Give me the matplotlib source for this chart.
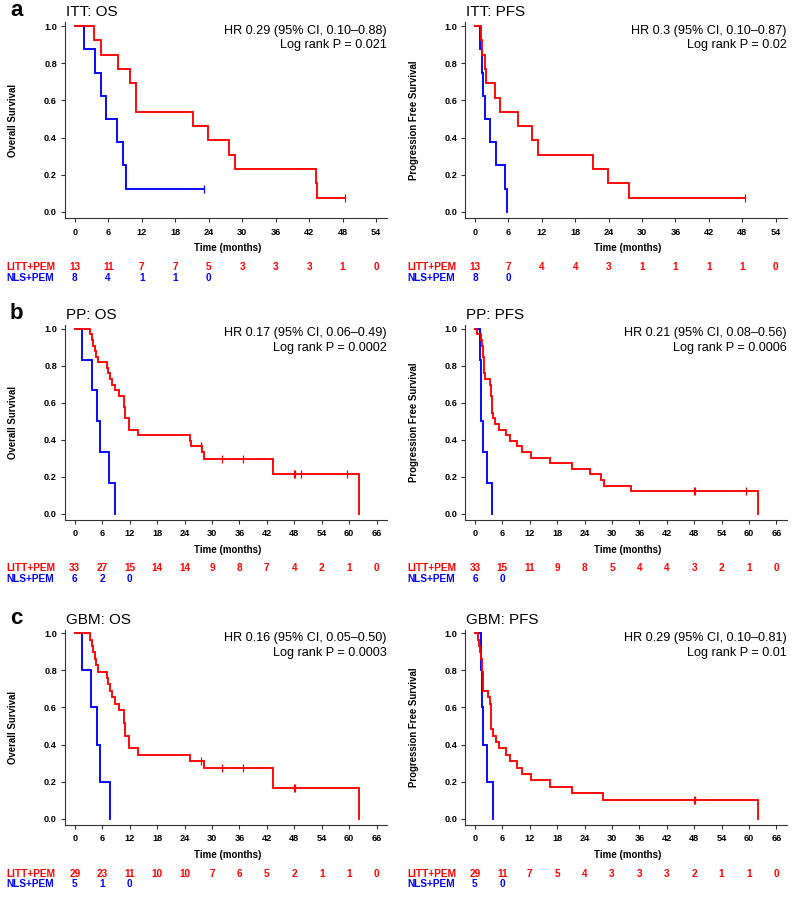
import numpy as np
import matplotlib
matplotlib.use("Agg")
import matplotlib.pyplot as plt
import matplotlib.transforms as mtransforms

plt.rcParams['font.family'] = ['Liberation Sans', 'DejaVu Sans']

# ---------------- data ----------------
# ITT: OS
itt_os_litt_t = [0, 3.4, 4.66, 7.83, 9.92, 11.0, 11.05, 21.27, 23.9, 27.66, 28.8, 43.2, 43.4]
itt_os_litt_s = [1.0, 0.923, 0.846, 0.769, 0.692, 0.615, 0.538, 0.462, 0.385, 0.308, 0.231, 0.154, 0.077]
itt_os_litt_cens = [48.4]
itt_os_nls_t = [0, 1.67, 3.58, 4.66, 5.6, 7.65, 8.72, 9.26]
itt_os_nls_s = [1.0, 0.875, 0.75, 0.625, 0.5, 0.375, 0.25, 0.125]
itt_os_nls_cens = [23.2]

# ITT: PFS
itt_pfs_litt_t = [0, 1.08, 1.2, 1.85, 2.05, 3.53, 4.49, 7.72, 10.3, 11.38, 21.26, 23.95, 27.66]
itt_pfs_litt_s = [1.0, 0.923, 0.846, 0.769, 0.692, 0.615, 0.538, 0.462, 0.385, 0.308, 0.231, 0.154, 0.077]
itt_pfs_litt_cens = [48.56]
itt_pfs_nls_t = [0, 0.84, 1.26, 1.44, 1.8, 2.63, 3.83, 5.39, 5.75]
itt_pfs_nls_s = [1.0, 0.875, 0.75, 0.625, 0.5, 0.375, 0.25, 0.125, 0.0]
itt_pfs_nls_cens = []

# PP: OS
pp_os_litt_t = [0, 3.35, 3.78, 4.07, 4.37, 4.65, 5.16, 6.95, 7.28, 7.72, 8.15, 8.7, 9.76,
                 10.85, 10.88, 10.91, 10.94, 11.8, 11.85, 13.8, 25.2, 25.35, 27.85, 28.35,
                 43.3, 43.4, 62.1]
pp_os_litt_s = [1.0, 0.970, 0.939, 0.909, 0.879, 0.848, 0.818, 0.788, 0.758, 0.727, 0.697, 0.667, 0.636,
                 0.606, 0.576, 0.545, 0.515, 0.485, 0.455, 0.424, 0.394, 0.364, 0.331, 0.298,
                 0.255, 0.213, 0.0]
pp_os_litt_cens = [27.5, 32.3, 36.8, 47.9, 48.2, 49.5, 59.4]
pp_os_nls_t = [0, 1.53, 3.7, 4.8, 5.5, 7.6, 8.8]
pp_os_nls_s = [1.0, 0.833, 0.667, 0.5, 0.333, 0.167, 0.0]
pp_os_nls_cens = []

# PP: PFS
pp_pfs_litt_t = [0, 0.5, 1.3, 1.45, 1.8, 1.85, 1.9, 2.0, 2.05, 2.1, 3.2, 3.4, 3.6, 3.63, 3.66, 3.7,
                  3.9, 4.3, 5.2, 6.85, 7.6, 9.3, 10.4, 12.3, 16.5, 21.3, 25.1, 27.6, 28.2, 34.2, 61.9]
pp_pfs_litt_s = [1.0, 0.970, 0.939, 0.909, 0.879, 0.848, 0.818, 0.788, 0.758, 0.727, 0.697, 0.667,
                  0.636, 0.606, 0.576, 0.545, 0.515, 0.485, 0.455, 0.424, 0.394, 0.364, 0.333, 0.303,
                  0.273, 0.242, 0.212, 0.182, 0.152, 0.121, 0.0]
pp_pfs_litt_cens = [47.9, 48.2, 59.4]
pp_pfs_nls_t = [0, 1.1, 1.25, 1.3, 1.83, 2.56, 3.8]
pp_pfs_nls_s = [1.0, 0.833, 0.667, 0.5, 0.333, 0.167, 0.0]
pp_pfs_nls_cens = []

# GBM: OS
gbm_os_litt_t = [0, 3.45, 3.8, 4.1, 4.4, 4.7, 5.1, 7.0, 7.3, 7.7, 8.15, 8.7, 9.76,
                  10.85, 10.88, 10.91, 10.94, 11.8, 11.85, 13.8, 25.2, 28.3, 43.3, 43.4, 62.1]
gbm_os_litt_s = [1.0, 0.966, 0.931, 0.897, 0.862, 0.828, 0.793, 0.759, 0.724, 0.690, 0.655, 0.621, 0.586,
                  0.552, 0.517, 0.483, 0.448, 0.414, 0.379, 0.345, 0.310, 0.272, 0.217, 0.163, 0.0]
gbm_os_litt_cens = [27.5, 32.3, 36.8, 47.9, 48.2]
gbm_os_nls_t = [0, 1.53, 3.6, 4.8, 5.5, 7.7]
gbm_os_nls_s = [1.0, 0.8, 0.6, 0.4, 0.2, 0.0]
gbm_os_nls_cens = []

# GBM: PFS
gbm_pfs_litt_t = [0, 0.59, 0.95, 1.03, 1.4, 1.43, 1.46, 1.75, 1.8, 1.84, 2.9, 3.2, 3.45, 3.5, 3.55, 3.6,
                   3.9, 4.5, 5.25, 6.85, 7.57, 9.18, 10.27, 12.3, 16.46, 21.27, 28.1, 61.9]
gbm_pfs_litt_s = [1.0, 0.966, 0.931, 0.897, 0.862, 0.828, 0.793, 0.759, 0.724, 0.690, 0.655, 0.621,
                   0.586, 0.552, 0.517, 0.483, 0.448, 0.414, 0.379, 0.345, 0.310, 0.276, 0.241, 0.207,
                   0.172, 0.138, 0.103, 0.0]
gbm_pfs_litt_cens = [47.9, 48.2]
gbm_pfs_nls_t = [0, 1.3, 1.45, 1.75, 2.62, 3.87]
gbm_pfs_nls_s = [1.0, 0.8, 0.6, 0.4, 0.2, 0.0]
gbm_pfs_nls_cens = []

# numbers at risk
itt_os_risk_litt = [13, 11, 7, 7, 5, 3, 3, 3, 1, 0]
itt_os_risk_nls = [8, 4, 1, 1, 0]
itt_pfs_risk_litt = [13, 7, 4, 4, 3, 1, 1, 1, 1, 0]
itt_pfs_risk_nls = [8, 0]
pp_os_risk_litt = [33, 27, 15, 14, 14, 9, 8, 7, 4, 2, 1, 0]
pp_os_risk_nls = [6, 2, 0]
pp_pfs_risk_litt = [33, 15, 11, 9, 8, 5, 4, 4, 3, 2, 1, 0]
pp_pfs_risk_nls = [6, 0]
gbm_os_risk_litt = [29, 23, 11, 10, 10, 7, 6, 5, 2, 1, 1, 0]
gbm_os_risk_nls = [5, 1, 0]
gbm_pfs_risk_litt = [29, 11, 7, 5, 4, 3, 3, 3, 2, 1, 1, 0]
gbm_pfs_risk_nls = [5, 0]

itt_ticks = [0, 6, 12, 18, 24, 30, 36, 42, 48, 54]
pp_ticks = [0, 6, 12, 18, 24, 30, 36, 42, 48, 54, 60, 66]
y_ticks = [0.0, 0.2, 0.4, 0.6, 0.8, 1.0]

titles = ["ITT: OS", "ITT: PFS", "PP: OS", "PP: PFS", "GBM: OS", "GBM: PFS"]
hr_texts = ["HR 0.29 (95% CI, 0.10\u20130.88)", "HR 0.3 (95% CI, 0.10\u20130.87)",
            "HR 0.17 (95% CI, 0.06\u20130.49)", "HR 0.21 (95% CI, 0.08\u20130.56)",
            "HR 0.16 (95% CI, 0.05\u20130.50)", "HR 0.29 (95% CI, 0.10\u20130.81)"]
p_texts = ["Log rank P = 0.021", "Log rank P = 0.02",
           "Log rank P = 0.0002", "Log rank P = 0.0006",
           "Log rank P = 0.0003", "Log rank P = 0.01"]
ylabels = ["Overall Survival", "Progression Free Survival"]
group_names = ["LITT+PEM", "NLS+PEM"]
panel_letters = ["a", "b", "c"]

RED = "#FF0000"
BLUE = "#0000FF"
AXC = "#333333"

# ---------------- layout ----------------
W, H = 798, 897
fig = plt.figure(figsize=(W / 100, H / 100), dpi=100)

col_left = [65 / W, 465.3 / W]
col_width = [322 / W, 321.4 / W]
row_tb = [(22.3, 218.5), (325.0, 520.2), (629.6, 825.2)]

panels = [
    (itt_os_litt_t, itt_os_litt_s, itt_os_litt_cens, itt_os_nls_t, itt_os_nls_s, itt_os_nls_cens,
     itt_os_risk_litt, itt_os_risk_nls, itt_ticks),
    (itt_pfs_litt_t, itt_pfs_litt_s, itt_pfs_litt_cens, itt_pfs_nls_t, itt_pfs_nls_s, itt_pfs_nls_cens,
     itt_pfs_risk_litt, itt_pfs_risk_nls, itt_ticks),
    (pp_os_litt_t, pp_os_litt_s, pp_os_litt_cens, pp_os_nls_t, pp_os_nls_s, pp_os_nls_cens,
     pp_os_risk_litt, pp_os_risk_nls, pp_ticks),
    (pp_pfs_litt_t, pp_pfs_litt_s, pp_pfs_litt_cens, pp_pfs_nls_t, pp_pfs_nls_s, pp_pfs_nls_cens,
     pp_pfs_risk_litt, pp_pfs_risk_nls, pp_ticks),
    (gbm_os_litt_t, gbm_os_litt_s, gbm_os_litt_cens, gbm_os_nls_t, gbm_os_nls_s, gbm_os_nls_cens,
     gbm_os_risk_litt, gbm_os_risk_nls, pp_ticks),
    (gbm_pfs_litt_t, gbm_pfs_litt_s, gbm_pfs_litt_cens, gbm_pfs_nls_t, gbm_pfs_nls_s, gbm_pfs_nls_cens,
     gbm_pfs_risk_litt, gbm_pfs_risk_nls, pp_ticks),
]


def draw_km(ax, t, s, cens, color):
    t = np.asarray(t, float)
    s = np.asarray(s, float)
    t_end = max(t[-1], max(cens) if len(cens) else t[-1])
    ax.step(np.append(t, t_end), np.append(s, s[-1]), where="post", color=color,
            lw=1.35, solid_joinstyle="miter", zorder=3)
    if len(cens):
        c = np.asarray(cens, float)
        idx = np.searchsorted(t, c, side="right") - 1
        ax.plot(c, s[idx], linestyle="none", marker="|", markersize=5.5,
                markeredgewidth=0.9, color=color, zorder=4)


for i, (lt, ls, lc, nt, ns, nc, rl, rn, ticks) in enumerate(panels):
    row, col = divmod(i, 2)
    top, bot = row_tb[row]
    ax = fig.add_axes([col_left[col], 1 - bot / H, col_width[col], (bot - top) / H])

    draw_km(ax, nt, ns, nc, BLUE)
    draw_km(ax, lt, ls, lc, RED)

    if ticks[-1] == 54:
        ax.set_xlim(-1.74, 55.97)
    else:
        ax.set_xlim(-2.12, 68.25)
    ax.set_ylim(-0.035, 1.02)
    ax.set_xticks(ticks)
    ax.set_yticks(y_ticks)
    ax.set_yticklabels([f"{v:.1f}" for v in y_ticks])

    for sp in ["top", "right"]:
        ax.spines[sp].set_visible(False)
    for sp in ["left", "bottom"]:
        ax.spines[sp].set_color(AXC)
        ax.spines[sp].set_linewidth(0.8)
    ax.tick_params(axis="both", direction="out", length=3.2, width=0.8, color=AXC,
                   labelsize=6.6)
    ax.tick_params(axis="x", pad=3.4)
    ax.tick_params(axis="y", pad=2.6)
    for lab in ax.get_xticklabels() + ax.get_yticklabels():
        lab.set_fontweight("bold")

    ax.set_xlabel("Time (months)", fontsize=7.0, fontweight="bold", va="center")
    ax.xaxis.set_label_coords(0.505, -0.152)
    ax.set_ylabel(ylabels[col], fontsize=6.9, fontweight="bold", va="center")
    ax.yaxis.set_label_coords(-0.16, 0.5)

    ax.text(0.003, 1.03, titles[i], transform=ax.transAxes, fontsize=11,
            ha="left", va="baseline")
    ax.text(1.0, 0.958, hr_texts[i], transform=ax.transAxes, fontsize=9.1,
            ha="right", va="center")
    ax.text(1.0, 0.882, p_texts[i], transform=ax.transAxes, fontsize=9.1,
            ha="right", va="center")

    # numbers at risk
    trans = mtransforms.blended_transform_factory(ax.transData, ax.transAxes)
    for k, v in enumerate(rl):
        ax.text(ticks[k], -0.247, str(v), transform=trans, ha="center", va="center",
                fontsize=7.2, fontweight="bold", color=RED, clip_on=False)
    for k, v in enumerate(rn):
        ax.text(ticks[k], -0.303, str(v), transform=trans, ha="center", va="center",
                fontsize=7.2, fontweight="bold", color=BLUE, clip_on=False)
    ax.text(-0.181, -0.247, group_names[0], transform=ax.transAxes, ha="left", va="center",
            fontsize=7.3, fontweight="bold", color=RED)
    ax.text(-0.181, -0.303, group_names[1], transform=ax.transAxes, ha="left", va="center",
            fontsize=7.3, fontweight="bold", color=BLUE)

    if col == 0:
        ax.text(-0.171, 1.03, panel_letters[row], transform=ax.transAxes, fontsize=16,
                fontweight="bold", ha="left", va="baseline")

fig.savefig("out.png", dpi=100)
